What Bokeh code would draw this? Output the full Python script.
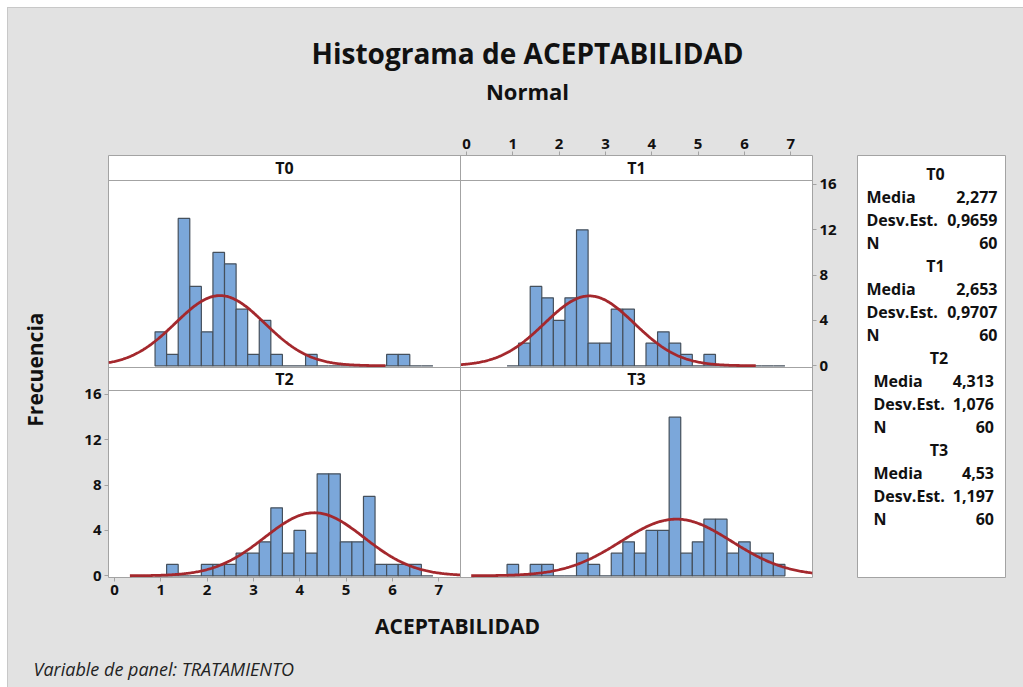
import numpy as np
from bokeh.plotting import figure
from bokeh.layouts import row, column
from bokeh.models import Range1d, LinearAxis, FixedTicker, ColumnDataSource, Span, Spacer
from bokeh.transform import dodge
from bokeh.core.properties import value
from bokeh.embed import file_html
from bokeh.resources import INLINE

# ---------------- data ----------------
treatments = ["T0", "T1", "T2", "T3"]
bin_mids = [1.0, 1.25, 1.5, 1.75, 2.0, 2.25, 2.5, 2.75, 3.0, 3.25, 3.5, 3.75,
            4.0, 4.25, 4.5, 4.75, 5.0, 5.25, 5.5, 5.75, 6.0, 6.25, 6.5, 6.75]
bin_width = 0.25
counts_T0 = [3, 1, 13, 7, 3, 10, 9, 5, 1, 4, 1, 0, 0, 1, 0, 0, 0, 0, 0, 0, 1, 1, 0, 0]
counts_T1 = [0, 2, 7, 6, 4, 6, 12, 2, 2, 5, 5, 0, 2, 3, 2, 1, 0, 1, 0, 0, 0, 0, 0, 0]
counts_T2 = [0, 1, 0, 0, 1, 1, 1, 2, 2, 3, 6, 2, 4, 2, 9, 9, 3, 3, 7, 1, 1, 1, 1, 0]
counts_T3 = [1, 0, 1, 1, 0, 0, 2, 1, 0, 2, 3, 2, 4, 4, 14, 2, 3, 5, 5, 2, 3, 2, 2, 1]
means = [2.277, 2.653, 4.313, 4.53]
sds = [0.9659, 0.9707, 1.076, 1.197]
ns = [60, 60, 60, 60]
mean_labels = ["2,277", "2,653", "4,313", "4,53"]
sd_labels = ["0,9659", "0,9707", "1,076", "1,197"]
x_ticks = [0, 1, 2, 3, 4, 5, 6, 7]
y_ticks = [0, 4, 8, 12, 16]
counts_all = [counts_T0, counts_T1, counts_T2, counts_T3]

# ---------------- style ----------------
FONT = "Open Sans"
BG = "#e2e2e2"
FRAME = "#a3a3a3"
BAR_FILL = "#7ba7da"
BAR_LINE = "#45505c"
CURVE = "#a4282d"
TXT = "#111111"
XMIN, XMAX = -0.13, 7.47
YMIN, YMAX = -0.15, 16.35
XSPAN = XMAX - XMIN
YSPAN = YMAX - YMIN
U = YSPAN / 187.0          # data units per pixel (vertical)
S1, S2 = 25 * U, 23 * U    # strip heights
OY = YSPAN + S2            # vertical offset of the top row
YEND = YMIN + 2 * YSPAN + S1 + S2


def plain_fig(width, height, xr, yr, left=0, right=0, top=0, bottom=0,
              bg=BG, outline=None):
    p = figure(width=width, height=height, x_range=xr, y_range=yr,
               output_backend="svg", toolbar_location=None,
               x_axis_location=None, y_axis_location=None,
               min_border_left=left, min_border_right=right,
               min_border_top=top, min_border_bottom=bottom,
               background_fill_color=bg, border_fill_color=BG,
               outline_line_color=outline)
    p.grid.visible = False
    return p


def style_axis(ax):
    ax.axis_line_color = None
    ax.major_tick_line_color = FRAME
    ax.major_tick_out = 4
    ax.major_tick_in = 0
    ax.minor_tick_line_color = None
    ax.major_label_text_font = FONT
    ax.major_label_text_font_size = "15px"
    ax.major_label_text_font_style = "bold"
    ax.major_label_text_color = TXT
    ax.major_label_standoff = 3
    return ax


# ---------------- main faceted figure ----------------
M = plain_fig(795, 477, Range1d(XMIN, XMIN + 2 * XSPAN), Range1d(YMIN, YEND),
              left=53, right=38, top=27, bottom=28, bg="white", outline=FRAME)
M.extra_x_ranges = {"xr": Range1d(XMIN - XSPAN, XMIN + XSPAN)}
M.extra_y_ranges = {"yt": Range1d(YMIN - OY, YEND - OY)}

offsets = [(0.0, OY), (XSPAN, OY), (0.0, 0.0), (XSPAN, 0.0)]
for i, (ox, oy) in enumerate(offsets):
    mids = np.array(bin_mids)
    src = ColumnDataSource(dict(left=mids - bin_width / 2, right=mids + bin_width / 2,
                                top=counts_all[i], bottom=[0] * len(bin_mids)))
    M.quad(left=dodge("left", ox), right=dodge("right", ox),
           top=dodge("top", oy), bottom=dodge("bottom", oy), source=src,
           fill_color=BAR_FILL, line_color=BAR_LINE, line_width=1.2)
    m, s, n = means[i], sds[i], ns[i]
    xs = np.linspace(max(m - 3.7 * s, XMIN), min(m + 3.7 * s, XMAX), 300)
    ys = n * bin_width / (s * np.sqrt(2 * np.pi)) * np.exp(-0.5 * ((xs - m) / s) ** 2)
    csrc = ColumnDataSource(dict(x=xs, y=ys))
    M.line(x=dodge("x", ox), y=dodge("y", oy), source=csrc,
           line_color=CURVE, line_width=2.8)

# panel dividers and strips
M.add_layout(Span(location=XMAX, dimension="height", line_color=FRAME, line_width=1))
for loc in [YMAX + OY, YMIN + OY, YMAX]:
    M.add_layout(Span(location=loc, dimension="width", line_color=FRAME, line_width=1))
M.text(x=[XMIN + XSPAN / 2, XMIN + 1.5 * XSPAN, XMIN + XSPAN / 2, XMIN + 1.5 * XSPAN],
       y=[YMAX + OY + S1 / 2, YMAX + OY + S1 / 2, YMAX + S2 / 2, YMAX + S2 / 2],
       text=treatments, text_font=value(FONT), text_font_size="16px",
       text_font_style="bold", text_color=TXT, text_align="center",
       text_baseline="middle")

# axes
ax_b = style_axis(LinearAxis(ticker=FixedTicker(ticks=x_ticks, minor_ticks=[])))
M.add_layout(ax_b, "below")
ax_t = style_axis(LinearAxis(x_range_name="xr",
                             ticker=FixedTicker(ticks=x_ticks, minor_ticks=[])))
M.add_layout(ax_t, "above")
ax_l = style_axis(LinearAxis(ticker=FixedTicker(ticks=y_ticks, minor_ticks=[])))
M.add_layout(ax_l, "left")
ax_r = style_axis(LinearAxis(y_range_name="yt",
                             ticker=FixedTicker(ticks=y_ticks, minor_ticks=[])))
M.add_layout(ax_r, "right")

# ---------------- header ----------------
header = plain_fig(1015, 120, Range1d(0, 1015), Range1d(0, 120))
header.text(x=[519], y=[76], text=["Histograma de ACEPTABILIDAD"], text_font=value(FONT),
            text_font_size="28px", text_font_style="bold", text_color=TXT,
            text_align="center", text_baseline="middle")
header.text(x=[519], y=[38], text=["Normal"], text_font=value(FONT),
            text_font_size="22px", text_font_style="bold", text_color=TXT,
            text_align="center", text_baseline="middle")

# ---------------- y label ----------------
ylab = plain_fig(47, 477, Range1d(0, 47), Range1d(0, 477))
ylab.text(x=[26], y=[235], text=["Frecuencia"], text_font=value(FONT),
          text_font_size="21px", text_font_style="bold", text_color=TXT,
          angle=np.pi / 2, text_align="center", text_baseline="middle")

# ---------------- stats box ----------------
leg = plain_fig(173, 477, Range1d(0, 148), Range1d(422, 0), left=7, right=18,
                top=27, bottom=28, bg="white", outline=FRAME)
hx, hy, ht = [], [], []
lx, ly, lt, rx, ry, rt = [], [], [], [], [], []
for i, t in enumerate(treatments):
    indent = 0 if i < 2 else 7
    y0 = 18 + 23 * (4 * i)
    hx.append(78 + indent / 2); hy.append(y0); ht.append(t)
    for j, (lab, val) in enumerate([("Media", mean_labels[i]),
                                     ("Desv.Est.", sd_labels[i]),
                                     ("N", str(ns[i]))]):
        yy = y0 + 23 * (j + 1)
        lx.append(9 + indent); ly.append(yy); lt.append(lab)
        rx.append(140 - indent / 2); ry.append(yy); rt.append(val)
common = dict(text_font=value(FONT), text_font_size="16px", text_font_style="bold",
              text_color=TXT, text_baseline="middle")
leg.text(x=hx, y=hy, text=ht, text_align="center", **common)
leg.text(x=lx, y=ly, text=lt, text_align="left", **common)
leg.text(x=rx, y=ry, text=rt, text_align="right", **common)

# ---------------- footer ----------------
footer = plain_fig(1015, 82, Range1d(0, 1015), Range1d(0, 82))
footer.text(x=[449], y=[62], text=["ACEPTABILIDAD"], text_font=value(FONT),
            text_font_size="21px", text_font_style="bold", text_color=TXT,
            text_align="center", text_baseline="middle")
footer.text(x=[25], y=[19], text=["Variable de panel: TRATAMIENTO"], text_font=value(FONT),
            text_font_size="18px", text_font_style="italic", text_color="#222222",
            text_align="left", text_baseline="middle")

content = column(header, row(ylab, M, leg, spacing=0), footer, spacing=0,
                 styles={"background-color": BG, "outline": "1px solid #c8c8c8"})
root = column(Spacer(width=8, height=8), row(Spacer(width=8, height=8), content, spacing=0),
              spacing=0)

open("out.html", "w").write(file_html(root, INLINE))
